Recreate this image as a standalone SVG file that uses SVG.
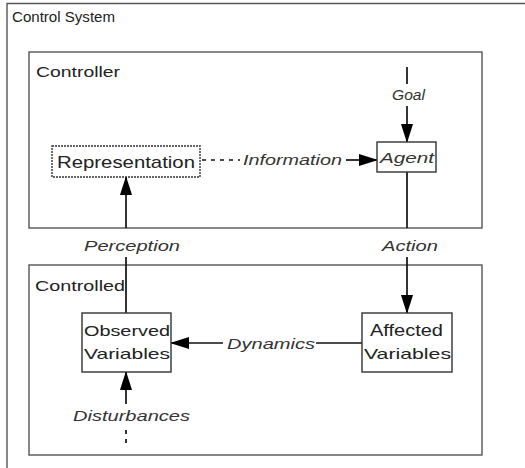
<svg xmlns="http://www.w3.org/2000/svg" width="525" height="468" viewBox="0 0 525 468">
<style>
.frame{fill:none;stroke:#555;stroke-width:1.4}
.box{fill:#fff;stroke:#333;stroke-width:1.4}
.t{font-family:"Liberation Sans",Arial,sans-serif;fill:#222}
.lbl{font-family:"Liberation Sans",Arial,sans-serif;font-style:italic;fill:#333;font-size:15px}
.c{stroke:#111;stroke-width:1.7;fill:none}
.d{stroke:#111;stroke-width:1.7;fill:none;stroke-dasharray:4,5}
</style>
<defs>
<marker id="ah" markerWidth="19" markerHeight="12" refX="18" refY="6" orient="auto" markerUnits="userSpaceOnUse">
<path d="M0,0 L19,6 L0,12 Z" fill="#000"/>
</marker>
</defs>
<rect width="525" height="468" fill="#fff"/>
<g id="control-system">
<path class="frame" d="M7,470 L7,3.5 L530,3.5"/>
<text class="t" x="12" y="22" font-size="14" textLength="103" lengthAdjust="spacingAndGlyphs">Control System</text>
</g>
<g id="controller">
<rect class="frame" x="29" y="52" width="453" height="176"/>
<text class="t" x="36" y="77" font-size="15" textLength="84" lengthAdjust="spacingAndGlyphs">Controller</text>
</g>
<g id="controlled">
<rect class="frame" x="29" y="265" width="453" height="190"/>
<text class="t" x="35" y="291" font-size="15" textLength="90" lengthAdjust="spacingAndGlyphs">Controlled</text>
</g>
<g id="connectors">
<line class="c" x1="407" y1="67" x2="407" y2="84"/>
<line class="c" x1="407" y1="106" x2="407" y2="142" marker-end="url(#ah)"/>
<text class="lbl" x="392" y="100" textLength="33" lengthAdjust="spacingAndGlyphs">Goal</text>
<line class="d" x1="202" y1="160" x2="240" y2="160"/>
<line class="c" x1="346" y1="160" x2="377" y2="160" marker-end="url(#ah)"/>
<text class="lbl" x="243" y="165" textLength="99" lengthAdjust="spacingAndGlyphs">Information</text>
<line class="c" x1="407" y1="172" x2="407" y2="228"/>
<line class="c" x1="407" y1="257" x2="407" y2="313" marker-end="url(#ah)"/>
<text class="lbl" x="382" y="251" textLength="56" lengthAdjust="spacingAndGlyphs">Action</text>
<line class="c" x1="126" y1="313" x2="126" y2="257"/>
<line class="c" x1="126" y1="228" x2="126" y2="177" marker-end="url(#ah)"/>
<text class="lbl" x="84" y="251" textLength="96" lengthAdjust="spacingAndGlyphs">Perception</text>
<line class="c" x1="362" y1="343" x2="316" y2="343"/>
<line class="c" x1="223" y1="343" x2="171" y2="343" marker-end="url(#ah)"/>
<text class="lbl" x="227" y="349" textLength="88" lengthAdjust="spacingAndGlyphs">Dynamics</text>
<line class="d" x1="126" y1="443" x2="126" y2="430"/>
<line class="c" x1="126" y1="404" x2="126" y2="372" marker-end="url(#ah)"/>
<text class="lbl" x="73" y="421" textLength="117" lengthAdjust="spacingAndGlyphs">Disturbances</text>
</g>
<g id="representation">
<rect class="box" x="52" y="146" width="148" height="31" stroke-dasharray="2,1"/>
<text class="t" x="57" y="168" font-size="17" textLength="138" lengthAdjust="spacingAndGlyphs">Representation</text>
</g>
<g id="agent">
<rect class="box" x="377" y="142" width="59" height="30"/>
<text class="lbl" x="380" y="163" textLength="54" lengthAdjust="spacingAndGlyphs">Agent</text>
</g>
<g id="observed">
<rect class="box" x="82" y="313" width="89" height="59"/>
<text class="t" x="84" y="336" font-size="15" textLength="86" lengthAdjust="spacingAndGlyphs">Observed</text>
<text class="t" x="84" y="359" font-size="15" textLength="86" lengthAdjust="spacingAndGlyphs">Variables</text>
</g>
<g id="affected">
<rect class="box" x="362" y="313" width="90" height="59"/>
<text class="t" x="370" y="336" font-size="16" textLength="73" lengthAdjust="spacingAndGlyphs">Affected</text>
<text class="t" x="364" y="359" font-size="15" textLength="87" lengthAdjust="spacingAndGlyphs">Variables</text>
</g>
</svg>
